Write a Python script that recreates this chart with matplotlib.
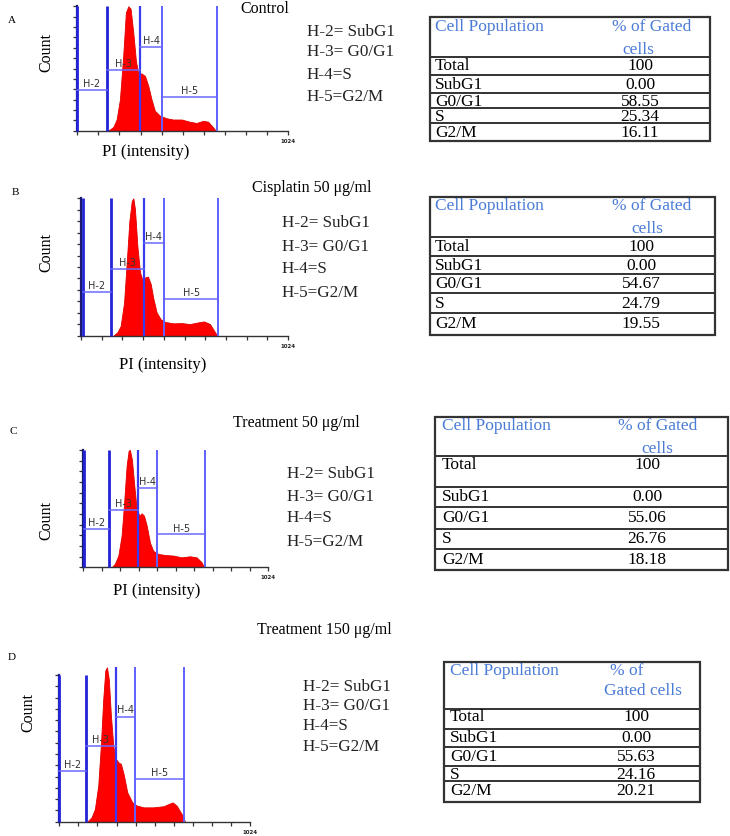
import numpy as np
import matplotlib
matplotlib.use("Agg")
import matplotlib.pyplot as plt

W, H = 730, 837

# ------------------------------------------------------------------ data
panel_letters = ["A", "B", "C", "D"]
titles = ["Control", "Cisplatin 50 μg/ml", "Treatment 50 μg/ml", "Treatment 150 μg/ml"]
legend_lines = ["H-2= SubG1", "H-3= G0/G1", "H-4=S", "H-5=G2/M"]
gate_names = ["H-2", "H-3", "H-4", "H-5"]
row_labels = ["Total", "SubG1", "G0/G1", "S", "G2/M"]
col_header = "Cell Population"
pct_header_A = ["% of Gated", "cells"]
pct_header_B = ["% of Gated", "cells"]
pct_header_C = ["% of Gated", "cells"]
pct_header_D = ["% of", "Gated cells"]

pct_A = ["100", "0.00", "58.55", "25.34", "16.11"]
pct_B = ["100", "0.00", "54.67", "24.79", "19.55"]
pct_C = ["100", "0.00", "55.06", "26.76", "18.18"]
pct_D = ["100", "0.00", "55.63", "24.16", "20.21"]

# DNA histogram outlines: PI channel (0-1024) vs relative count
chan_A = [150, 175, 191, 207, 223, 236, 248, 259, 272, 285, 296, 312, 329, 345, 361,
          377, 402, 434, 466, 507, 547, 580, 612, 636, 660, 673]
cnt_A = [0, 0.03, 0.09, 0.25, 0.60, 0.95, 1.0, 0.98, 0.79, 0.56, 0.46, 0.46, 0.44, 0.36,
         0.25, 0.16, 0.12, 0.10, 0.09, 0.09, 0.072, 0.062, 0.08, 0.072, 0.027, 0]

chan_B = [160, 180, 196, 213, 226, 239, 251, 259, 267, 279, 292, 305, 318, 331, 345,
          358, 374, 394, 416, 457, 498, 539, 580, 608, 638, 663, 674]
cnt_B = [0, 0.025, 0.07, 0.24, 0.53, 0.83, 0.98, 1.0, 0.92, 0.65, 0.46, 0.40, 0.425, 0.43,
         0.376, 0.27, 0.17, 0.12, 0.10, 0.09, 0.092, 0.085, 0.097, 0.104, 0.085, 0.025, 0]

chan_C = [157, 175, 194, 212, 225, 240, 251, 258, 269, 282, 295, 310, 323, 336, 351,
          369, 387, 415, 452, 498, 544, 590, 627, 655, 668]
cnt_C = [0, 0.03, 0.10, 0.27, 0.53, 0.87, 0.995, 1.0, 0.92, 0.70, 0.50, 0.44, 0.46, 0.44,
         0.355, 0.21, 0.14, 0.114, 0.105, 0.10, 0.085, 0.094, 0.085, 0.043, 0]

chan_D = [150, 173, 191, 209, 223, 236, 247, 256, 266, 277, 290, 302, 317, 331, 347,
          365, 392, 417, 453, 505, 559, 586, 609, 630, 657, 675]
cnt_D = [0, 0.028, 0.082, 0.233, 0.49, 0.795, 0.98, 1.0, 0.92, 0.69, 0.49, 0.41, 0.385,
         0.374, 0.30, 0.19, 0.125, 0.104, 0.093, 0.093, 0.10, 0.114, 0.125, 0.104, 0.05, 0]

# gate boundaries (channels) and marker bar levels (relative count)
gates_A = [0, 142, 304, 413, 680]
gates_B = [8, 148, 310, 412, 679]
gates_C = [5, 144, 304, 410, 673]
gates_D = [0, 141, 303, 406, 672]
bars_A = [0.33, 0.49, 0.675, 0.27]
bars_B = [0.32, 0.485, 0.675, 0.27]
bars_C = [0.327, 0.49, 0.68, 0.28]
bars_D = [0.326, 0.49, 0.68, 0.276]

# ------------------------------------------------------------------ layout (pixels)
layout = [
    dict(letter=(8, 20), title=(240, 9), leg_x=307, leg_y=[32, 52, 75, 97],
         hist=(77.3, 288, 7.3, 131.7), spine_top=1.0, nyt=12, gate_tops=[1, 1, 1, 1, 1],
         count=(46, 52), pi=(146, 152),
         tab=dict(l=430, r=710, t=18, lines=[58, 76, 94, 109, 124], b=142,
                  pop=(435, 27), h1=(652, 27), h2=(638, 50), rl_x=435,
                  row_y=[66, 85, 102, 117, 133], val_x=640)),
    dict(letter=(12, 192), title=(252, 188), leg_x=282, leg_y=[223, 247, 269, 293],
         hist=(81, 288, 199.3, 336.7), spine_top=1.0, nyt=12, gate_tops=[1, 1, 1, 1, 1],
         count=(46, 252), pi=(163, 365),
         tab=dict(l=430, r=715, t=198, lines=[238, 257, 275, 294, 314], b=336,
                  pop=(435, 206), h1=(652, 206), h2=(647, 229), rl_x=435,
                  row_y=[247, 266, 284, 304, 324], val_x=641)),
    dict(letter=(10, 432), title=(233, 423), leg_x=287, leg_y=[474, 497, 518, 542],
         hist=(83.3, 268.3, 451, 568.3), spine_top=1.0, nyt=11, gate_tops=[1, 1, 1, 1, 1],
         count=(46, 520), pi=(157, 591),
         tab=dict(l=435, r=728, t=418, lines=[457, 488, 508, 530, 550], b=571,
                  pop=(442, 426), h1=(658, 426), h2=(657, 449), rl_x=442,
                  row_y=[465, 497, 518, 539, 560], val_x=647)),
    dict(letter=(8, 658), title=(257, 630), leg_x=303, leg_y=[687, 706, 726, 747],
         hist=(59.3, 250, 668.3, 822.7), spine_top=0.95, nyt=13,
         gate_tops=[0.95, 0.95, 1, 1, 1],
         count=(28, 713), pi=None,
         tab=dict(l=444, r=700, t=663, lines=[710, 730, 748, 767, 782], b=803,
                  pop=(450, 671), h1=(627, 671), h2=(643, 691), rl_x=450,
                  row_y=[717, 738, 757, 775, 791], val_x=636)),
]

chans = [chan_A, chan_B, chan_C, chan_D]
cnts = [cnt_A, cnt_B, cnt_C, cnt_D]
gates_all = [gates_A, gates_B, gates_C, gates_D]
bars_all = [bars_A, bars_B, bars_C, bars_D]
pcts = [pct_A, pct_B, pct_C, pct_D]
pct_headers = [pct_header_A, pct_header_B, pct_header_C, pct_header_D]

SERIF = ["Liberation Serif", "DejaVu Serif"]
BLUE_HDR = "#4a7bd6"
TFS = 12.5

fig = plt.figure(figsize=(W / 100, H / 100), dpi=100)
ov = fig.add_axes([0, 0, 1, 1])
ov.set_xlim(0, W)
ov.set_ylim(H, 0)
ov.axis("off")

for i in range(4):
    L = layout[i]
    ov.text(*L["letter"], panel_letters[i], fontsize=8, family=SERIF, va="center", ha="left")
    ov.text(*L["title"], titles[i], fontsize=11.5, family=SERIF, va="center", ha="left")
    for txt, y in zip(legend_lines, L["leg_y"]):
        ov.text(L["leg_x"], y, txt, fontsize=12.3, family=SERIF, va="center", ha="left",
                color="#222222")
    ov.text(*L["count"], "Count", fontsize=11.5, family=SERIF, rotation=90,
            va="center", ha="center")
    if L["pi"] is not None:
        ov.text(*L["pi"], "PI (intensity)", fontsize=12, family=SERIF,
                va="center", ha="center")

    # table
    T = L["tab"]
    ov.add_patch(plt.Rectangle((T["l"], T["t"]), T["r"] - T["l"], T["b"] - T["t"],
                               fill=False, lw=1.6, ec="#333333"))
    for y in T["lines"]:
        ov.plot([T["l"], T["r"]], [y, y], color="#333333", lw=1.4)
    ov.text(*T["pop"], col_header, fontsize=TFS, family=SERIF, color=BLUE_HDR,
            va="center", ha="left")
    ov.text(*T["h1"], pct_headers[i][0], fontsize=TFS, family=SERIF, color=BLUE_HDR,
            va="center", ha="center")
    ov.text(*T["h2"], pct_headers[i][1], fontsize=TFS, family=SERIF, color=BLUE_HDR,
            va="center", ha="center")
    for lab, val, y in zip(row_labels, pcts[i], T["row_y"]):
        ov.text(T["rl_x"], y, lab, fontsize=TFS, family=SERIF, va="center", ha="left")
        ov.text(T["val_x"], y, val, fontsize=TFS, family=SERIF, va="center", ha="center")

    # histogram
    x0, x1, yt, yb = L["hist"]
    ax = fig.add_axes([x0 / W, 1 - yb / H, (x1 - x0) / W, (yb - yt) / H])
    ax.patch.set_alpha(0)
    ax.set_xlim(0, 1024)
    ax.set_ylim(0, 1)
    ax.fill_between(chans[i], cnts[i], 0, facecolor="#ff0000", edgecolor="#e00000",
                    lw=0.6, zorder=2)
    for s in ["top", "right"]:
        ax.spines[s].set_visible(False)
    ax.spines["left"].set_bounds(0, L["spine_top"])
    ax.spines["left"].set_color("#1a1a6e")
    ax.spines["left"].set_linewidth(1.6)
    ax.spines["bottom"].set_color("#333333")
    ax.spines["bottom"].set_linewidth(1.0)
    xt = np.linspace(0, 1024, 11)
    ax.set_xticks(xt)
    ax.set_xticklabels([""] * 10 + ["1024"], fontsize=4, fontweight="bold")
    ax.set_yticks(np.linspace(0, L["spine_top"], L["nyt"] + 1))
    ax.set_yticklabels([])
    ax.tick_params(direction="out", length=3, width=0.9, colors="#333333", pad=2)
    ax.tick_params(axis="x", labelcolor="#222222")

    g = gates_all[i]
    gcol = ["#2323d8", "#2323d8", "#3a3af0", "#6060ff", "#6060ff"]
    glw = [2.0, 2.0, 1.6, 1.4, 1.4]
    for k, gx in enumerate(g):
        ax.plot([gx, gx], [0, L["gate_tops"][k]], color=gcol[k], lw=glw[k],
                zorder=4, clip_on=False, solid_capstyle="butt")
    for k in range(4):
        ax.plot([g[k], g[k + 1]], [bars_all[i][k]] * 2, color="#6a6aff", lw=1.1,
                zorder=4, clip_on=False)
        ax.text((g[k] + g[k + 1]) / 2, bars_all[i][k] + 0.015, gate_names[k],
                fontsize=7, family="DejaVu Sans", color="#333333",
                ha="center", va="bottom", zorder=5)

fig.savefig("out.png", dpi=100)
